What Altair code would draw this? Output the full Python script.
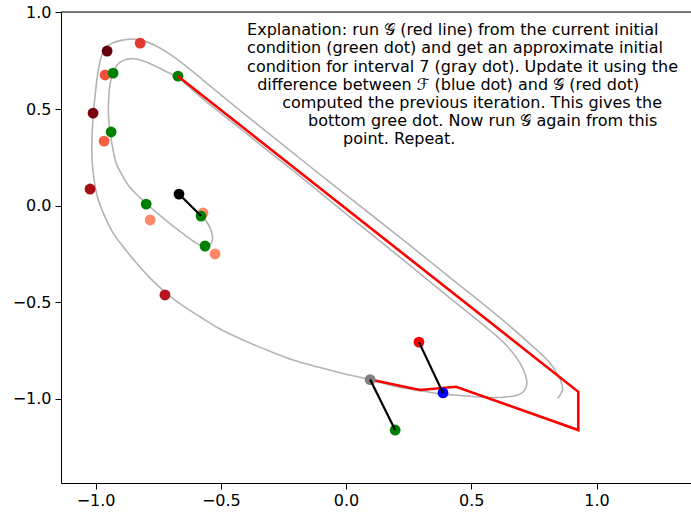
import altair as alt
import pandas as pd

# ---- gray trajectory ----
curve_x = [-0.571, -0.551, -0.537, -0.533, -0.543, -0.567, -0.611, -0.659, -0.703, -0.750,
           -0.798, -0.838, -0.870, -0.894, -0.918, -0.930, -0.940, -0.948, -0.948, -0.942,
           -0.930, -0.910, -0.886, -0.858, -0.814, -0.766, -0.719, -0.671, -0.571, -0.435,
           -0.303, -0.184, 0.016, 0.216, 0.415, 0.575, 0.635, 0.681, 0.707, 0.721,
           0.719, 0.707, 0.679, 0.635, 0.602, 0.535, 0.455, 0.387, 0.295, 0.202,
           0.096, -0.012, -0.112, -0.212, -0.311, -0.411, -0.503, -0.583, -0.651, -0.716,
           -0.782, -0.836, -0.886, -0.929, -0.962, -0.989, -1.002, -1.009, -1.014, -1.015,
           -1.013, -1.009, -1.002, -0.995, -0.986, -0.975, -0.958, -0.934, -0.902, -0.855,
           -0.810, -0.758, -0.703, -0.639, -0.571, -0.435, -0.303, -0.184, 0.016, 0.216,
           0.415, 0.615, 0.735, 0.814, 0.846, 0.862, 0.864, 0.854, 0.844]
curve_y = [-0.059, -0.095, -0.137, -0.173, -0.201, -0.212, -0.183, -0.137, -0.093, -0.043,
           0.011, 0.060, 0.107, 0.158, 0.220, 0.288, 0.365, 0.453, 0.546, 0.629,
           0.691, 0.733, 0.753, 0.761, 0.751, 0.725, 0.694, 0.663, 0.551, 0.412,
           0.275, 0.153, -0.059, -0.268, -0.478, -0.646, -0.716, -0.788, -0.845, -0.902,
           -0.938, -0.964, -0.982, -0.990, -0.993, -0.990, -0.982, -0.975, -0.957, -0.937,
           -0.900, -0.868, -0.835, -0.799, -0.750, -0.695, -0.638, -0.575, -0.519, -0.454,
           -0.375, -0.298, -0.219, -0.143, -0.059, 0.029, 0.101, 0.167, 0.236, 0.305,
           0.391, 0.479, 0.567, 0.650, 0.722, 0.779, 0.818, 0.841, 0.854, 0.862,
           0.854, 0.826, 0.784, 0.722, 0.650, 0.505, 0.368, 0.244, 0.039, -0.165,
           -0.372, -0.581, -0.716, -0.814, -0.876, -0.925, -0.954, -0.980, -0.998]

# ---- red polyline (G run) ----
g_x = [-0.671, 0.927, 0.927, 0.439, 0.295, 0.096]
g_y = [0.670, -0.963, -1.161, -0.937, -0.954, -0.899]

# ---- dots drawn below the red polyline ----
low_x = [-0.954, -0.822, -0.962, -1.010, -0.966, -1.022, -0.782, -0.523, -0.571, -0.723,
         -0.930, -0.671, -0.938, -0.798, -0.579, -0.563, 0.196]
low_y = [0.800, 0.841, 0.676, 0.479, 0.334, 0.086, -0.074, -0.250, -0.038, -0.462,
         0.686, 0.670, 0.381, 0.008, -0.054, -0.209, -1.161]
low_c = ["#67000d", "#e2382f", "#f05038", "#7a0510", "#f65e44", "#a50f15", "#fc8a6a",
         "#fc8a6a", "#fc8a6a", "#b5161f",
         "green", "green", "green", "green", "green", "green", "green"]

# ---- dots drawn above the red polyline ----
top_x = [-0.667, 0.291, 0.096, 0.387]
top_y = [0.060, -0.706, -0.900, -0.969]
top_c = ["black", "red", "gray", "blue"]

# ---- black update segments ----
seg_x = [-0.667, 0.291, 0.096]
seg_y = [0.060, -0.706, -0.900]
seg_x2 = [-0.579, 0.387, 0.196]
seg_y2 = [-0.054, -0.969, -1.161]

# ---- annotation ----
note_lines = [
    "Explanation: run 𝒢 (red line) from the current initial",
    "condition (green dot) and get an approximate initial",
    "condition for interval 7 (gray dot). Update it using the",
    "difference between ℱ (blue dot) and 𝒢 (red dot)",
    "computed the previous iteration. This gives the",
    "bottom gree dot. Now run 𝒢 again from this",
    "point. Repeat.",
]
note_x = [-0.395, -0.395, -0.395, -0.355, -0.255, -0.152, -0.012]
note_y = [0.908, 0.814, 0.720, 0.626, 0.532, 0.438, 0.344]

tick_vals = [-1.0, -0.5, 0.0, 0.5, 1.0]

W, H = 630, 471
xs = alt.Scale(domain=[-1.138, 1.377], nice=False, zero=False)
ys = alt.Scale(domain=[-1.435, 1.002], nice=False, zero=False)

FONT = "DejaVu Sans"
xax = alt.Axis(values=tick_vals, format=".1f", grid=False, title=None, tickSize=6,
               labelFontSize=16, labelFont=FONT, labelColor="black", domainColor="black",
               tickColor="black", labelPadding=3, labelFlush=False, labelOverlap=False)
yax = alt.Axis(values=tick_vals, format=".1f", grid=False, title=None, tickSize=6,
               labelFontSize=16, labelFont=FONT, labelColor="black", domainColor="black",
               tickColor="black", labelPadding=4, labelFlush=False, labelOverlap=False)

curve_df = pd.DataFrame({"x": curve_x, "y": curve_y, "i": range(len(curve_x))})
g_df = pd.DataFrame({"x": g_x, "y": g_y, "i": range(len(g_x))})
low_df = pd.DataFrame({"x": low_x, "y": low_y, "c": low_c})
top_df = pd.DataFrame({"x": top_x, "y": top_y, "c": top_c})
seg_df = pd.DataFrame({"x": seg_x, "y": seg_y, "x2": seg_x2, "y2": seg_y2})
note_df = pd.DataFrame({"x": note_x, "y": note_y, "t": note_lines})

curve = alt.Chart(curve_df).mark_line(color="#b3b3b3", strokeWidth=1.6,
                                      interpolate="catmull-rom").encode(
    x=alt.X("x:Q", scale=xs, axis=xax),
    y=alt.Y("y:Q", scale=ys, axis=yax),
    order="i:Q")

low = alt.Chart(low_df).mark_circle(size=118, opacity=1).encode(
    x=alt.X("x:Q", scale=xs), y=alt.Y("y:Q", scale=ys),
    color=alt.Color("c:N", scale=None))

gline = alt.Chart(g_df).mark_line(color="red", strokeWidth=2.6).encode(
    x=alt.X("x:Q", scale=xs), y=alt.Y("y:Q", scale=ys), order="i:Q")

top = alt.Chart(top_df).mark_circle(size=118, opacity=1).encode(
    x=alt.X("x:Q", scale=xs), y=alt.Y("y:Q", scale=ys),
    color=alt.Color("c:N", scale=None))

segs = alt.Chart(seg_df).mark_rule(color="black", strokeWidth=2.2).encode(
    x=alt.X("x:Q", scale=xs), y=alt.Y("y:Q", scale=ys), x2="x2:Q", y2="y2:Q")

note = alt.Chart(note_df).mark_text(align="left", baseline="middle", font=FONT,
                                    fontSize=16, color="black").encode(
    x=alt.X("x:Q", scale=xs), y=alt.Y("y:Q", scale=ys), text="t:N")

topspine = alt.Chart(pd.DataFrame({"k": [0]})).mark_rule(color="black", strokeWidth=1).encode(
    x=alt.value(0), x2=alt.value(W), y=alt.value(0))

chart = alt.layer(curve, low, gline, top, segs, note, topspine).properties(
    width=W, height=H, autosize="none",
    padding={"left": 61, "top": 12, "right": 0, "bottom": 29},
).configure_view(stroke=None).configure(background="white")

chart.save("out.html", embed_options={"renderer": "svg", "actions": False})
